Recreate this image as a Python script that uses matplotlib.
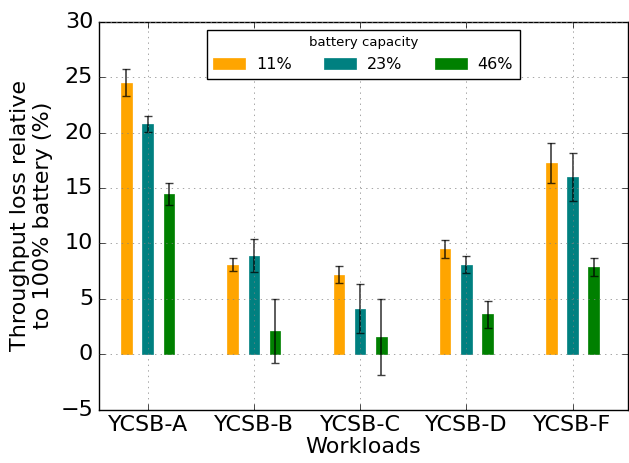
import numpy as np
import matplotlib
matplotlib.use("Agg")
import matplotlib.pyplot as plt

# -----------------------
# Data
# -----------------------
workloads = ["YCSB-A", "YCSB-B", "YCSB-C", "YCSB-D", "YCSB-F"]
capacities = ["11%", "23%", "46%"]
colors = ["#FFA500", "#008080", "#008000"]

loss_11 = [24.5, 8.1, 7.2, 9.5, 17.3]
err_11 = [1.2, 0.55, 0.8, 0.8, 1.8]
loss_23 = [20.8, 8.9, 4.1, 8.1, 16.0]
err_23 = [0.7, 1.5, 2.2, 0.8, 2.15]
loss_46 = [14.5, 2.1, 1.55, 3.6, 7.9]
err_46 = [1.0, 2.85, 3.4, 1.2, 0.8]

series = [loss_11, loss_23, loss_46]
errors = [err_11, err_23, err_46]

# -----------------------
# Plot
# -----------------------
plt.style.use("classic")
fig = plt.figure(figsize=(6.29, 4.63), dpi=100, facecolor="white")
ax = fig.add_axes([0.157, 0.115, 0.841, 0.838])

x = np.arange(len(workloads))
width = 0.1
offsets = [-0.2, 0.0, 0.2]

for vals, errs, col, lab, off in zip(series, errors, colors, capacities, offsets):
    ax.bar(x + off, vals, width, color=col, edgecolor=col, linewidth=0.5,
           label=lab, align="center")
    ax.errorbar(x + off, vals, yerr=errs, fmt="none", ecolor="black",
                alpha=0.75, capsize=3, elinewidth=1.2, capthick=1)

ax.set_xlim(-0.46, 4.52)
ax.set_ylim(-5, 30)
ax.set_xticks(x)
ax.set_xticklabels(workloads, fontsize=16)
ax.tick_params(axis="y", labelsize=16)
ax.set_yticks(range(-5, 31, 5))
ax.set_xlabel("Workloads", fontsize=16, labelpad=1)
ax.set_ylabel("Throughput loss relative\nto 100% battery (%)", fontsize=16)
ax.grid(True, linestyle=":", color="gray")

leg = ax.legend(loc="upper center", ncol=3, title="battery capacity",
                fontsize=11.5, frameon=True, handlelength=2.0,
                handletextpad=0.7, columnspacing=2.0, borderaxespad=0.5)
plt.setp(leg.get_title(), fontsize=9.5)

fig.savefig("out.png", dpi=100, facecolor="white")
